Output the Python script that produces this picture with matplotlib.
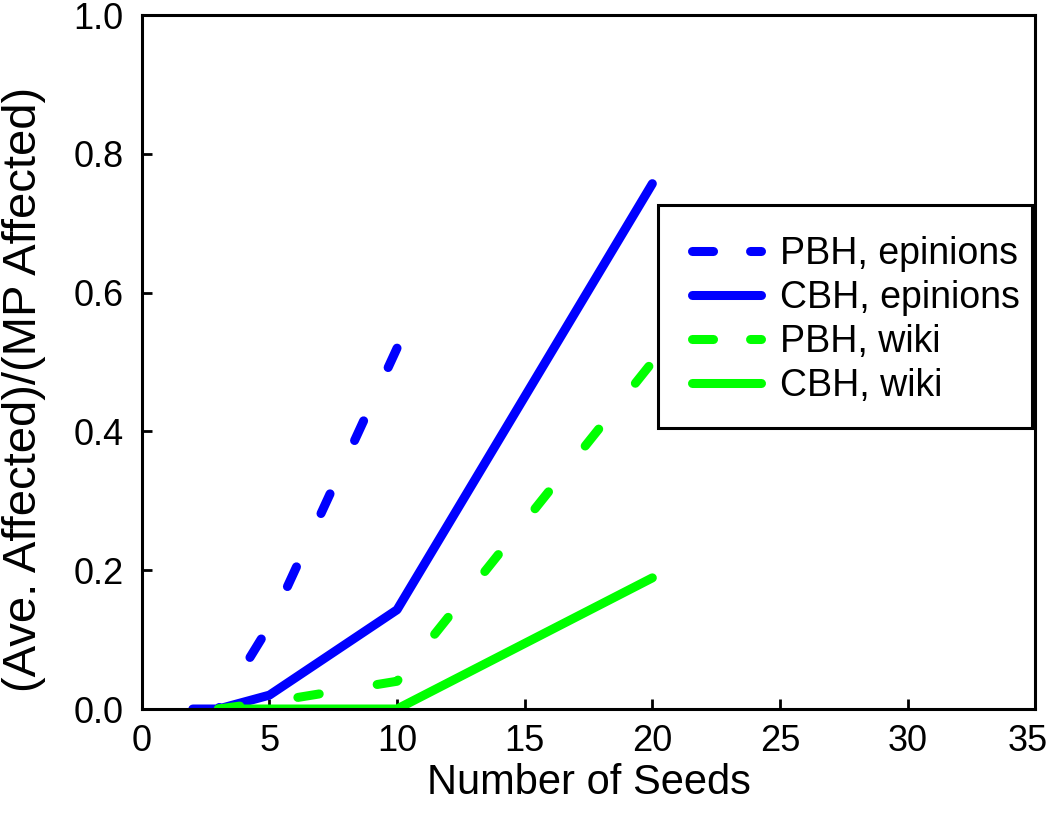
import matplotlib
matplotlib.use("Agg")
import matplotlib.pyplot as plt
from matplotlib.patches import Rectangle
from matplotlib.transforms import ScaledTranslation

plt.rcParams['font.family'] = ['Liberation Sans', 'DejaVu Sans']

pbh_epinions_x = [3, 5, 10]
pbh_epinions_y = [0.0, 0.12, 0.52]
cbh_epinions_x = [2, 3, 5, 10, 20]
cbh_epinions_y = [0.0, 0.0, 0.02, 0.143, 0.757]
pbh_wiki_x = [3, 5, 10, 20]
pbh_wiki_y = [0.0, 0.01, 0.04, 0.50]
cbh_wiki_x = [3, 5, 10, 20]
cbh_wiki_y = [0.0, 0.0, 0.0, 0.189]

labels = ["PBH, epinions", "CBH, epinions", "PBH, wiki", "CBH, wiki"]
x_ticks = [0, 5, 10, 15, 20, 25, 30, 35]
y_ticks = [0.0, 0.2, 0.4, 0.6, 0.8, 1.0]

fig = plt.figure(figsize=(10.5, 8.21), dpi=100)
ax = fig.add_axes([0.135, 0.1364, 0.851, 0.8453])

blue = '#0000ff'
green = '#00ff00'
lw = 6.5

l1, = ax.plot(pbh_epinions_x, pbh_epinions_y, color=blue, lw=lw,
              linestyle=(2.2, (2.4, 6.5)),
              dash_capstyle='round', solid_capstyle='round', label=labels[0])
l2, = ax.plot(cbh_epinions_x, cbh_epinions_y, color=blue, lw=lw,
              solid_capstyle='round', label=labels[1])
l3, = ax.plot(pbh_wiki_x, pbh_wiki_y, color=green, lw=lw,
              linestyle=(0, (2.4, 6.5)),
              dash_capstyle='round', solid_capstyle='round', label=labels[2])
l4, = ax.plot(cbh_wiki_x, cbh_wiki_y, color=green, lw=lw,
              solid_capstyle='round', label=labels[3])

ax.set_xlim(0, 35)
ax.set_ylim(0, 1.0)
ax.set_xticks(x_ticks)
ax.set_xticklabels([str(t) for t in x_ticks])
ax.set_yticks(y_ticks)
ax.set_yticklabels([f"{t:.1f}" for t in y_ticks])
ax.tick_params(direction='in', length=7, width=2, labelsize=26,
               top=False, right=False)
ax.tick_params(axis='x', pad=11)
ax.tick_params(axis='y', pad=13)
for s in ax.spines.values():
    s.set_linewidth(2.2)

# nudge the last x tick label so it stays inside the canvas
last = ax.xaxis.get_major_ticks()[-1].label1
last.set_transform(last.get_transform() +
                   ScaledTranslation(-8 / 100, 0, fig.dpi_scale_trans))

ax.set_xlabel("Number of Seeds", fontsize=30, labelpad=3)
ax.set_ylabel("(Ave. Affected)/(MP Affected)", fontsize=34)
ax.yaxis.set_label_coords(-0.1075, 0.46)

# legend frame
frame = Rectangle((0.5778, 0.4049), 0.4188, 0.3213, transform=ax.transAxes,
                  facecolor='white', edgecolor='black', lw=2.2, zorder=4.9)
ax.add_patch(frame)

leg = ax.legend(handles=[l1, l2, l3, l4], loc='upper left',
                bbox_to_anchor=(0.6159, 0.6815), fontsize=27,
                frameon=False, handlelength=1.83, handletextpad=0.52,
                labelspacing=0.216, borderpad=0.0, borderaxespad=0.0)
leg.set_zorder(5)
for i, h in enumerate(leg.get_lines()):
    h.set_dash_capstyle('round')
    h.set_solid_capstyle('round')
    if i in (0, 2):
        h.set_linestyle((0, (2.33, 4.1)))

fig.savefig("out.png", dpi=100)
